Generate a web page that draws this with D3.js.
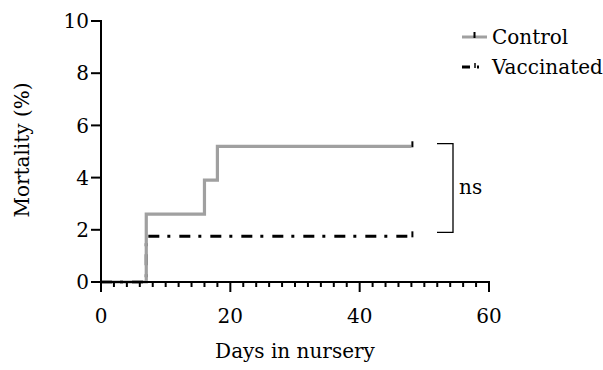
<!DOCTYPE html>
<html>
<head>
<meta charset="utf-8">
<script src="https://cdn.jsdelivr.net/npm/d3@7"></script>
<style>
  body { margin: 0; background: #fff; }
  text { font-family: "DejaVu Serif", "Liberation Serif", serif; }
</style>
</head>
<body>
<div id="graphic"></div>
<script>
// Step data (day, mortality %)
var controlSteps = [[0, 0], [7, 0], [7, 2.6], [16, 2.6], [16, 3.9], [18, 3.9], [18, 5.2], [48, 5.2]];
var vaccinatedSteps = [[0, 0], [7, 0], [7, 1.75], [48, 1.75]];
var xTicks = [0, 20, 40, 60];
var yTicks = [0, 2, 4, 6, 8, 10];
var seriesNames = ["Control", "Vaccinated"];

var svgWidth = 603;
var svgHeight = 370;
var margin = { left: 101, right: 114, top: 21, bottom: 88 };
var fontSize = "20px";

var svg = d3.select("#graphic")
  .append("svg")
  .attr("width", svgWidth)
  .attr("height", svgHeight);

var x = d3.scaleLinear().domain([0, 60]).range([margin.left, svgWidth - margin.right]);
var y = d3.scaleLinear().domain([0, 10]).range([svgHeight - margin.bottom, margin.top]);

var line = d3.line()
  .x(function(d) { return x(d[0]); })
  .y(function(d) { return y(d[1]); });

// vaccinated first, control on top
svg.append("path")
  .datum(vaccinatedSteps)
  .attr("d", line)
  .attr("fill", "none")
  .attr("stroke", "#000")
  .attr("stroke-width", 3)
  .attr("stroke-dasharray", "11,8,3,9");

svg.append("path")
  .datum(controlSteps)
  .attr("d", line)
  .attr("fill", "none")
  .attr("stroke", "#a0a0a0")
  .attr("stroke-width", 3.2);

// censor ticks at end of each curve
[controlSteps, vaccinatedSteps].forEach(function(s) {
  var last = s[s.length - 1];
  svg.append("line")
    .attr("x1", x(last[0]) + 1).attr("x2", x(last[0]) + 1)
    .attr("y1", y(last[1]) - 5).attr("y2", y(last[1]) + 1)
    .attr("stroke", "#000").attr("stroke-width", 2);
});

// x axis with minor ticks
var xAxis = svg.append("g")
  .attr("transform", "translate(0," + y(0) + ")");
xAxis.append("line")
  .attr("x1", x(0) - 1).attr("x2", x(60) + 1)
  .attr("stroke", "#000").attr("stroke-width", 2);
xAxis.selectAll(".minor")
  .data(d3.range(0, 61, 2))
  .enter().append("line")
  .attr("x1", function(d) { return x(d); })
  .attr("x2", function(d) { return x(d); })
  .attr("y1", 0)
  .attr("y2", function(d) { return d % 20 === 0 ? 10 : 5; })
  .attr("stroke", "#000").attr("stroke-width", 2);
xAxis.selectAll(".lbl")
  .data(xTicks)
  .enter().append("text")
  .attr("x", function(d) { return x(d); })
  .attr("y", 41)
  .attr("text-anchor", "middle")
  .style("font-size", fontSize)
  .text(function(d) { return d; });

// y axis
var yAxis = svg.append("g")
  .attr("transform", "translate(" + x(0) + ",0)");
yAxis.append("line")
  .attr("y1", y(10) - 1).attr("y2", y(0) + 10)
  .attr("stroke", "#000").attr("stroke-width", 2);
yAxis.selectAll(".tk")
  .data(yTicks)
  .enter().append("line")
  .attr("x1", -10).attr("x2", 0)
  .attr("y1", function(d) { return y(d); })
  .attr("y2", function(d) { return y(d); })
  .attr("stroke", "#000").attr("stroke-width", 2);
yAxis.selectAll(".lbl")
  .data(yTicks)
  .enter().append("text")
  .attr("x", -12)
  .attr("y", function(d) { return y(d); })
  .attr("dy", "0.36em")
  .attr("text-anchor", "end")
  .style("font-size", fontSize)
  .text(function(d) { return d; });

// axis titles
svg.append("text")
  .attr("x", x(30))
  .attr("y", 358)
  .attr("text-anchor", "middle")
  .style("font-size", fontSize)
  .text("Days in nursery");

svg.append("text")
  .attr("transform", "translate(29,150) rotate(-90)")
  .attr("text-anchor", "middle")
  .style("font-size", fontSize)
  .text("Mortality (%)");

// significance bracket
var bx = 453;
svg.append("path")
  .attr("d", "M" + (bx - 16) + "," + y(5.3) + "H" + bx + "V" + y(1.9) + "H" + (bx - 16))
  .attr("fill", "none")
  .attr("stroke", "#000")
  .attr("stroke-width", 1.3);
svg.append("text")
  .attr("x", bx + 6)
  .attr("y", 188)
  .attr("dy", "0.3em")
  .style("font-size", fontSize)
  .text("ns");

// legend
var legend = svg.append("g");
var legY = [37, 67];
legend.append("line")
  .attr("x1", 462).attr("x2", 487).attr("y1", legY[0]).attr("y2", legY[0])
  .attr("stroke", "#a0a0a0").attr("stroke-width", 3);
legend.append("line")
  .attr("x1", 474.5).attr("x2", 474.5).attr("y1", legY[0] - 5).attr("y2", legY[0] + 1)
  .attr("stroke", "#000").attr("stroke-width", 2);
legend.append("line")
  .attr("x1", 462).attr("x2", 487).attr("y1", legY[1]).attr("y2", legY[1])
  .attr("stroke", "#000").attr("stroke-width", 3)
  .attr("stroke-dasharray", "8,7,2,10");
legend.append("line")
  .attr("x1", 475).attr("x2", 475).attr("y1", legY[1] - 4).attr("y2", legY[1] + 1)
  .attr("stroke", "#000").attr("stroke-width", 1.5);
legend.selectAll(".lt")
  .data(seriesNames)
  .enter().append("text")
  .attr("x", 492)
  .attr("y", function(d, i) { return legY[i]; })
  .attr("dy", "0.35em")
  .style("font-size", fontSize)
  .text(function(d) { return d; });
</script>
</body>
</html>
